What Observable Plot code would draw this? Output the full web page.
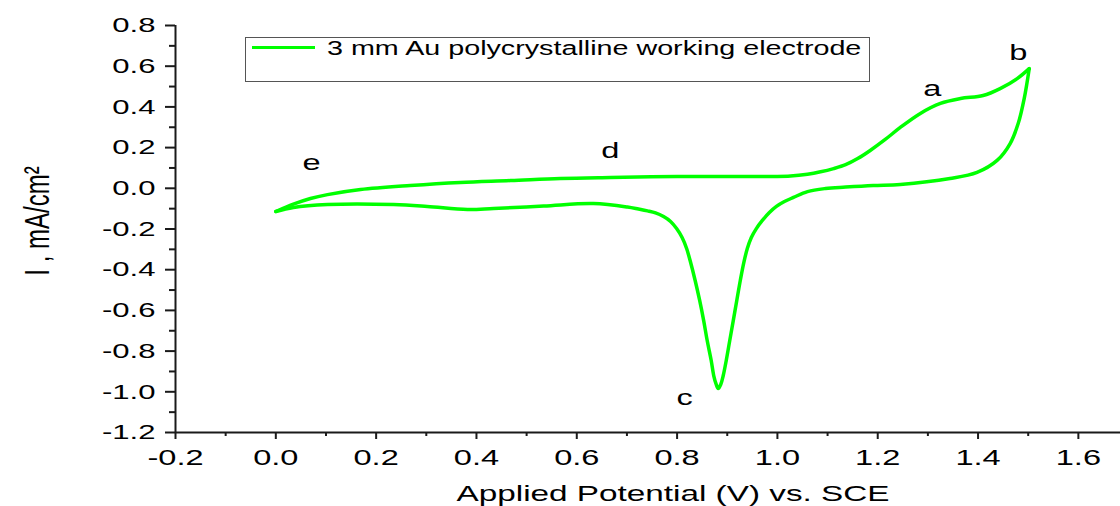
<!DOCTYPE html>
<html>
<head>
<meta charset="utf-8">
<script src="https://cdn.jsdelivr.net/npm/d3@7"></script>
<script src="https://cdn.jsdelivr.net/npm/@observablehq/plot@0.6"></script>
<style>
  body { margin: 0; background: #fff; }
  #chart { position: relative; width: 1120px; height: 506px; font-family: "Liberation Sans", Arial, sans-serif; }
  .legend { position: absolute; left: 245px; top: 37px; width: 625px; height: 45px;
            border: 1.5px solid #555; box-sizing: border-box; background: #fff; }
  .legend .swatch { position: absolute; left: 6px; top: 8px; width: 63px; height: 3px; background: #00ff00; }
  .legend .label { position: absolute; left: 81px; top: -2px; font-size: 19.4px; line-height: 24px;
                   white-space: nowrap; color: #000; transform: scaleX(1.48); transform-origin: 0 50%; }
</style>
</head>
<body>
<div id="chart"></div>
<script>
// Cyclic voltammogram of a 3 mm polycrystalline Au electrode.
// Forward (anodic) sweep 0 V -> 1.5 V: potential (V vs. SCE) and current density (mA/cm²)
const anodicE = [0.000, 0.035, 0.069, 0.103, 0.169, 0.268, 0.368, 0.468, 0.567, 0.667, 0.800, 0.926, 0.992,
                 1.026, 1.060, 1.086, 1.112, 1.136, 1.160, 1.185, 1.215, 1.245, 1.285, 1.325, 1.365, 1.410,
                 1.444, 1.478, 1.502];
const anodicI = [-0.114, -0.078, -0.050, -0.031, -0.006, 0.014, 0.029, 0.038, 0.048, 0.053, 0.058, 0.058, 0.058,
                 0.060, 0.069, 0.081, 0.097, 0.116, 0.146, 0.186, 0.240, 0.299, 0.368, 0.417, 0.441, 0.456,
                 0.490, 0.539, 0.588];

// Reverse (cathodic) sweep 1.5 V -> 0 V, with the oxide reduction peak near 0.88 V
const cathodicE = [1.502, 1.492, 1.480, 1.464, 1.438, 1.398, 1.344, 1.245, 1.191, 1.136, 1.096, 1.060, 1.032,
                   1.014, 0.998, 0.984, 0.970, 0.958, 0.948, 0.940, 0.933, 0.926, 0.919, 0.912, 0.905, 0.898,
                   0.892, 0.887, 0.882, 0.878, 0.873, 0.868, 0.860, 0.853, 0.845, 0.836, 0.827, 0.819, 0.810,
                   0.799, 0.787, 0.773, 0.757, 0.741, 0.723, 0.701, 0.633, 0.534, 0.434, 0.382, 0.302, 0.235,
                   0.103, 0.035, 0.000];
const cathodicI = [0.588, 0.441, 0.318, 0.220, 0.137, 0.078, 0.048, 0.019, 0.014, 0.006, -0.001, -0.016, -0.045,
                   -0.065, -0.089, -0.119, -0.158, -0.198, -0.242, -0.296, -0.365, -0.453, -0.551, -0.650, -0.748, -0.846,
                   -0.920, -0.964, -0.984, -0.964, -0.920, -0.846, -0.748, -0.650, -0.551, -0.453, -0.365, -0.296, -0.242,
                   -0.198, -0.163, -0.139, -0.121, -0.111, -0.102, -0.092, -0.075, -0.087, -0.099, -0.104, -0.089, -0.080,
                   -0.080, -0.094, -0.114];

// Feature letters placed on the voltammogram
const markLabels = ["a", "b", "c", "d", "e"];
const markE = [1.309, 1.480, 0.815, 0.667, 0.071];
const markI = [0.487, 0.664, -1.028, 0.186, 0.127];

// Axes
const xDomain = [-0.2, 1.684];
const yDomain = [-1.2, 0.8];
const xMajor = [-0.2, 0.0, 0.2, 0.4, 0.6, 0.8, 1.0, 1.2, 1.4, 1.6];
const xMinor = [-0.1, 0.1, 0.3, 0.5, 0.7, 0.9, 1.1, 1.3, 1.5];
const yMajor = [-1.2, -1.0, -0.8, -0.6, -0.4, -0.2, 0.0, 0.2, 0.4, 0.6, 0.8];
const yMinor = [-1.1, -0.9, -0.7, -0.5, -0.3, -0.1, 0.1, 0.3, 0.5, 0.7];

const xLabel = "Applied Potential (V) vs. SCE";
const yLabel = "I , mA/cm²";
const seriesName = "3 mm Au polycrystalline working electrode";

const cv = [
  ...anodicE.map((E, i) => ({E, I: anodicI[i], branch: "anodic"})),
  ...cathodicE.map((E, i) => ({E, I: cathodicI[i], branch: "cathodic"}))
];
const marks = markLabels.map((label, i) => ({label, E: markE[i], I: markI[i]}));

const fmt = d => d.toFixed(1);

const svg = Plot.plot({
  width: 1120,
  height: 506,
  marginLeft: 175,
  marginRight: 0,
  marginTop: 25,
  marginBottom: 74,
  style: {fontFamily: "'Liberation Sans', Arial, sans-serif", fontSize: "20px", color: "#000", background: "#fff"},
  x: {domain: xDomain, label: null},
  y: {domain: yDomain, label: null},
  marks: [
    Plot.ruleX([xDomain[0]], {stroke: "#1a1a1a", strokeWidth: 2}),
    Plot.ruleY([yDomain[0]], {stroke: "#1a1a1a", strokeWidth: 2}),
    Plot.axisY({ticks: yMajor, tickSize: 10, tickPadding: 10, tickFormat: fmt, strokeWidth: 2, stroke: "#1a1a1a", fontSize: 21, label: null}),
    Plot.axisY({ticks: yMinor, tickSize: 6, fill: "none", strokeWidth: 2, stroke: "#1a1a1a", label: null}),
    Plot.axisX({ticks: xMajor, tickSize: 7, tickPadding: 10, tickFormat: fmt, strokeWidth: 2, stroke: "#1a1a1a", fontSize: 22, label: null}),
    Plot.axisX({ticks: xMinor, tickSize: 4, fill: "none", strokeWidth: 2, stroke: "#1a1a1a", label: null}),
    Plot.line(cv, {x: "E", y: "I", z: "branch", curve: "catmull-rom", stroke: "#00ff00", strokeWidth: 3.5}),
    Plot.text(marks, {x: "E", y: "I", text: "label", fontSize: 22, fill: "#000"}),
    Plot.text([xLabel], {frameAnchor: "bottom", textAnchor: "middle", lineAnchor: "middle", dx: 25, dy: 61, fontSize: 22.5, fill: "#000"}),
    Plot.text([yLabel], {frameAnchor: "left", textAnchor: "middle", lineAnchor: "middle", rotate: -90, dx: -138, dy: -8, fontSize: 24, fill: "#000"})
  ]
});

// Widen glyphs horizontally (the chart uses a broad sans-serif face)
const stretch = 1.48;
d3.select(svg).selectAll("text").each(function () {
  const t = this.getAttribute("transform") || "";
  this.setAttribute("transform", t + (/rotate\(-90\)/.test(t) ? ` scale(1,${stretch})` : ` scale(${stretch},1)`));
});

const chart = document.getElementById("chart");
chart.appendChild(svg);

// Series legend box inside the plotting area
const legend = document.createElement("div");
legend.className = "legend";
legend.innerHTML = `<div class="swatch"></div><div class="label"></div>`;
legend.querySelector(".label").textContent = seriesName;
chart.appendChild(legend);
</script>
</body>
</html>
